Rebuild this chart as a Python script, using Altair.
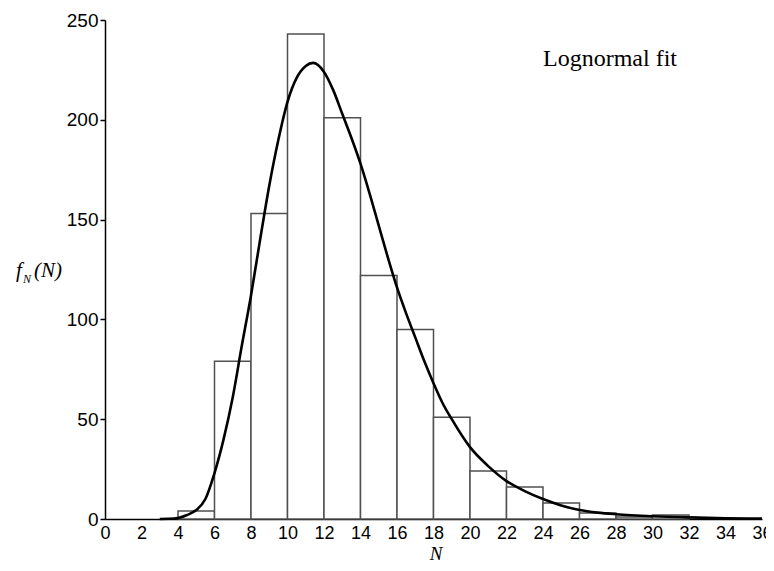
import altair as alt
import pandas as pd

# Histogram bins (lower edge, upper edge) and counts
bin_lo = [4, 6, 8, 10, 12, 14, 16, 18, 20, 22, 24, 26, 28, 30]
bin_hi = [6, 8, 10, 12, 14, 16, 18, 20, 22, 24, 26, 28, 30, 32]
counts = [4, 79, 153, 243, 201, 122, 95, 51, 24, 16, 8, 3, 1, 2]

# Lognormal fit curve
curve_n = [3, 3.5, 4, 4.5, 5, 5.5, 6, 6.5, 7, 7.5, 8, 8.5, 9, 9.5, 10, 10.5, 11, 11.4,
           12, 12.5, 13, 13.5, 14, 14.5, 15, 15.5, 16, 16.5, 17, 17.5, 18, 18.5, 19,
           20, 21, 22, 23, 24, 25, 26, 27, 28, 30, 32, 34, 36]
curve_f = [0, 0.1, 0.5, 2, 4.5, 10, 23, 40, 61, 87, 112, 140, 167, 190, 209, 221, 227, 228.5,
           224, 215, 203, 191, 178, 163, 147, 131, 116, 103, 91, 79, 68, 58, 50,
           36, 26.5, 19, 14, 10, 6.8, 4.5, 3.2, 2.4, 1.4, 0.8, 0.4, 0.2]

x_ticks = list(range(0, 37, 2))
y_ticks = [0, 50, 100, 150, 200, 250]

hist_df = pd.DataFrame({"lo": bin_lo, "hi": bin_hi, "count": counts})
curve_df = pd.DataFrame({"N": curve_n, "f": curve_f})

W, H = 657, 499

xscale = alt.Scale(domain=[0, 36], nice=False, zero=False)
yscale = alt.Scale(domain=[0, 250], nice=False)

xaxis = alt.Axis(values=x_ticks, title=None, grid=False, ticks=False, labelPadding=5,
                 labelFontSize=18, labelFont="Liberation Sans", labelColor="black",
                 domainColor="black", domainWidth=1.5, labelFlush=False, labelOverlap=False,
                 labelBound=False)
yaxis = alt.Axis(values=y_ticks, title=None, grid=False, tickSize=5, tickColor="black",
                 tickWidth=1.5, labelPadding=2, labelFontSize=19, labelFont="Liberation Sans",
                 labelColor="black", domainColor="black", domainWidth=1.5)

bars = alt.Chart(hist_df).mark_rect(fill="white", stroke="#505050", strokeWidth=1.5).encode(
    x=alt.X("lo:Q", scale=xscale, axis=xaxis),
    x2="hi:Q",
    y=alt.Y("count:Q", scale=yscale, axis=yaxis),
    y2=alt.datum(0),
)

curve = alt.Chart(curve_df).mark_line(color="black", strokeWidth=2.6, interpolate="monotone").encode(
    x=alt.X("N:Q", scale=xscale, axis=xaxis),
    y=alt.Y("f:Q", scale=yscale, axis=yaxis),
)

def txt(s, x, y, size, style="normal", font="Liberation Serif"):
    return alt.Chart(pd.DataFrame({"t": [s]})).mark_text(
        align="left", baseline="alphabetic", fontSize=size, font=font,
        fontStyle=style, color="black"
    ).encode(x=alt.value(x), y=alt.value(y), text="t:N")

label_fit = txt("Lognormal fit", 438, 46, 24)
y_f = txt("f", -89, 257, 21, "italic")
y_sub = txt("N", -82, 263, 12, "italic")
y_rest = txt("(N)", -71, 257, 21, "italic")
x_title = alt.Chart(pd.DataFrame({"t": ["N"]})).mark_text(
    align="center", baseline="alphabetic", fontSize=19, font="Liberation Serif",
    fontStyle="italic", color="black"
).encode(x=alt.value(331), y=alt.value(540), text="t:N")

chart = alt.layer(bars, curve, label_fit, y_f, y_sub, y_rest, x_title).properties(
    width=W, height=H,
    autosize=alt.AutoSizeParams(type="none"),
    padding={"left": 97, "top": 12, "right": 4, "bottom": 44},
    background="white",
).configure_view(stroke=None)

chart.save("out.html", embed_options={"renderer": "svg", "actions": False})
